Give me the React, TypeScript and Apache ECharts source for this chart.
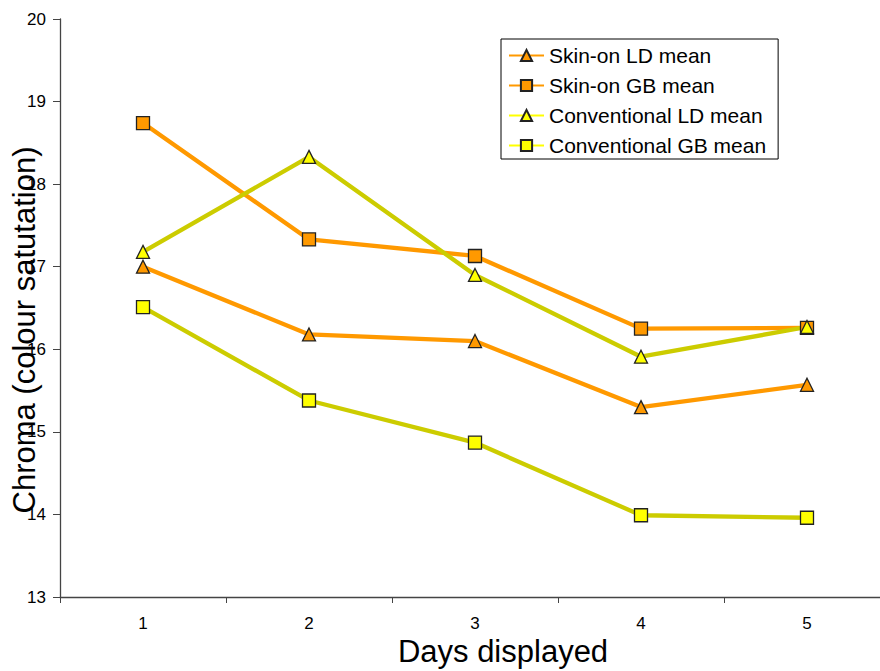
import React, { useEffect, useRef } from "react";
import * as echarts from "echarts";

const days = ["1", "2", "3", "4", "5"];
const skinOnLD = [17.0, 16.18, 16.1, 15.3, 15.57];
const skinOnGB = [18.74, 17.33, 17.13, 16.25, 16.26];
const convLD = [17.18, 18.33, 16.9, 15.91, 16.27];
const convGB = [16.51, 15.38, 14.87, 13.99, 13.96];

const ORANGE = "#FF9900";
const OLIVE = "#CCCC00";
const YELLOW = "#FFFF00";
const FONT = "'Liberation Sans', Arial, sans-serif";

export default function App() {
  const ref = useRef<HTMLDivElement>(null);
  useEffect(() => {
    if (!ref.current) return;
    const chart = echarts.init(ref.current, null, { renderer: "svg" });
    const mk = (name: string, data: number[], line: string, fill: string, symbol: string) => ({
      name,
      type: "line",
      data,
      symbol,
      symbolSize: 13,
      lineStyle: { color: line, width: 4.3 },
      itemStyle: { color: fill, borderColor: "#222", borderWidth: 1.3 },
      emphasis: { disabled: true },
    });
    chart.setOption({
      animation: false,
      textStyle: { fontFamily: FONT, color: "#000" },
      grid: { left: 60, top: 19, width: 830, height: 578, containLabel: false, outerBoundsMode: "none" },
      legend: {
        orient: "vertical",
        left: 501,
        top: 39,
        padding: [6, 12, 3, 7],
        borderColor: "#000",
        borderWidth: 1,
        itemWidth: 35,
        itemHeight: 14,
        itemGap: 9,
        textStyle: { fontSize: 21, color: "#000", fontFamily: FONT },
        data: [
          { name: "Skin-on LD mean", lineStyle: { color: ORANGE } },
          { name: "Skin-on GB mean", lineStyle: { color: ORANGE } },
          { name: "Conventional LD mean", lineStyle: { color: YELLOW } },
          { name: "Conventional GB mean", lineStyle: { color: YELLOW } },
        ],
      },
      xAxis: {
        type: "category",
        data: days,
        boundaryGap: true,
        name: "Days displayed",
        nameLocation: "middle",
        nameGap: 39,
        nameMoveOverlap: false,
        nameTextStyle: { fontSize: 31, color: "#000", padding: [0, 0, 0, 56] },
        axisLine: { lineStyle: { color: "#444", width: 1.3 } },
        axisTick: { show: true, length: 6, lineStyle: { color: "#444" } },
        axisLabel: { fontSize: 17, color: "#000", margin: 18 },
        splitLine: { show: false },
      },
      yAxis: {
        type: "value",
        min: 13,
        max: 20,
        interval: 1,
        name: "Chroma (colour satutation)",
        nameLocation: "middle",
        nameGap: 20,
        nameMoveOverlap: false,
        nameTextStyle: { fontSize: 31, color: "#000", padding: [0, 44, 0, 0] },
        axisLine: { show: true, lineStyle: { color: "#444", width: 1.3 } },
        axisTick: { show: true, length: 7, lineStyle: { color: "#444" } },
        axisLabel: { fontSize: 17, color: "#000", margin: 14 },
        splitLine: { show: false },
      },
      series: [
        mk("Skin-on LD mean", skinOnLD, ORANGE, ORANGE, "triangle"),
        mk("Skin-on GB mean", skinOnGB, ORANGE, ORANGE, "rect"),
        mk("Conventional LD mean", convLD, OLIVE, YELLOW, "triangle"),
        mk("Conventional GB mean", convGB, OLIVE, YELLOW, "rect"),
      ],
    });
    return () => chart.dispose();
  }, []);
  return (
    <div
      ref={ref}
      style={{ position: "fixed", left: 0, top: 0, width: 880, height: 671, background: "#fff" }}
    />
  );
}
